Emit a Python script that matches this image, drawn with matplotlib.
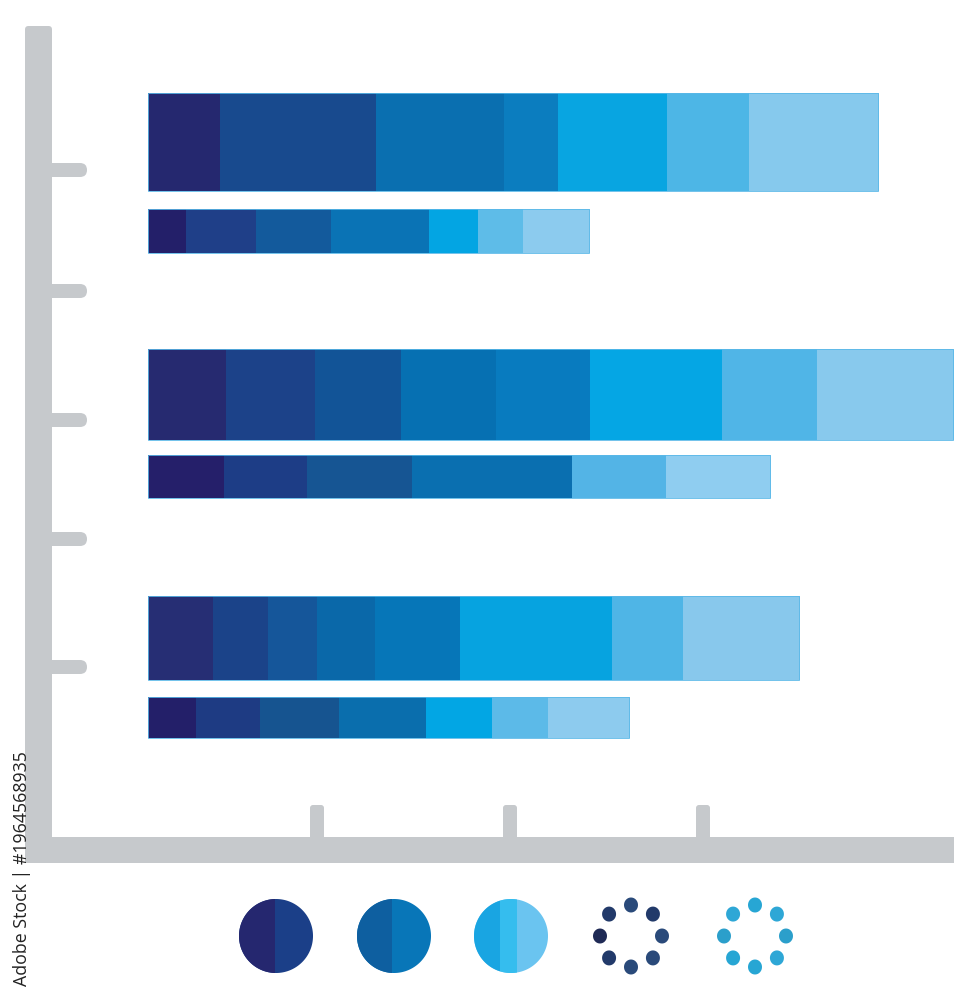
import matplotlib
matplotlib.use("Agg")
import matplotlib.pyplot as plt
from matplotlib.patches import FancyBboxPatch, Rectangle
import numpy as np

# ---------------- data ----------------
bar_names = ["Group 1 - A", "Group 1 - B", "Group 2 - A", "Group 2 - B", "Group 3 - A", "Group 3 - B"]
seg_group1_a = [7.2, 15.6, 12.8, 5.4, 10.9, 8.2, 12.9]
seg_group1_b = [3.8, 7.0, 7.5, 9.8, 4.9, 4.5, 6.6]
seg_group2_a = [7.8, 8.9, 8.6, 9.5, 9.4, 13.2, 9.5, 13.6]
seg_group2_b = [7.6, 8.3, 10.5, 16.0, 9.4, 10.4]
seg_group3_a = [6.5, 5.5, 4.9, 5.8, 8.5, 15.2, 7.1, 11.6]
seg_group3_b = [4.8, 6.4, 7.9, 8.7, 6.6, 5.6, 8.1]

col_group1_a = ["#25286f", "#184a8e", "#0a6fb0", "#0b7dbf", "#08a5e1", "#4db6e6", "#86c9ed"]
col_group1_b = ["#231f69", "#1f3f88", "#135a9c", "#0a73b5", "#03a5e3", "#5ebce8", "#8ccbee"]
col_group2_a = ["#262a70", "#1c4289", "#125497", "#0670b2", "#087bbf", "#05a6e4", "#50b5e7", "#88c9ed"]
col_group2_b = ["#251f6a", "#1d3d86", "#165593", "#0a6fb0", "#53b4e6", "#8fcdf0"]
col_group3_a = ["#262e74", "#1b4389", "#15569a", "#0a68a9", "#0676b8", "#06a3e0", "#4fb5e6", "#88c8ec"]
col_group3_b = ["#231f69", "#1e3b83", "#165490", "#0a6ead", "#02a6e4", "#5cbae8", "#8dcbee"]

x_tick_values = [16.9, 36.2, 55.5]
watermark = "Adobe Stock | #1964568935"

# ---------------- layout ----------------
series = [seg_group1_a, seg_group1_b, seg_group2_a, seg_group2_b, seg_group3_a, seg_group3_b]
colors = [col_group1_a, col_group1_b, col_group2_a, col_group2_b, col_group3_a, col_group3_b]
bar_y = [142, 231, 394.5, 476.5, 638, 717.5]
bar_h = [98, 44, 91, 43, 84, 41]

W, H = 978, 1000
fig = plt.figure(figsize=(W / 100, H / 100), dpi=100)
ax = fig.add_axes([0, 0, 1, 1])
X0 = 148.0   # pixel of value 0
SC = 10.0    # pixels per unit
ax.set_xlim((0 - X0) / SC, (W - X0) / SC)
ax.set_ylim(H, 0)
ax.axis("off")

def X(px):
    return (np.asarray(px) - X0) / SC

def DX(px):
    return px / SC

gray = "#c6c9cc"

# y axis
ax.add_patch(FancyBboxPatch((X(25), 26), DX(27), 837,
                            boxstyle="round,pad=0,rounding_size=0.35",
                            mutation_aspect=SC, fc=gray, ec="none"))
# x axis
ax.add_patch(Rectangle((X(25), 837), DX(929), 26, fc=gray, ec="none"))
# y ticks (decorative)
for yt in [170, 291, 420, 539, 667]:
    ax.add_patch(FancyBboxPatch((X(40), yt - 7), DX(47), 14,
                                boxstyle="round,pad=0,rounding_size=0.7",
                                mutation_aspect=10, fc=gray, ec="none"))
# x ticks
for xv in x_tick_values:
    ax.add_patch(FancyBboxPatch((xv - DX(7), 805), DX(14), 40,
                                boxstyle="round,pad=0,rounding_size=0.3",
                                mutation_aspect=SC, fc=gray, ec="none"))

# bars
for vals, cols, yc, h in zip(series, colors, bar_y, bar_h):
    left = 0.0
    for v, c in zip(vals, cols):
        ax.barh(yc, v + 0.05, left=left, height=h, color=c, edgecolor="none")
        left += v
    ax.barh(yc, left, left=0, height=h, color="none", edgecolor="#5ab8e8", linewidth=0.6)

# legend-like circles
cy = 936
r = 37

def circle_two(cx, c_left, c_right, split_px, extra=None):
    th = np.linspace(0, 2 * np.pi, 300)
    xs = cx + r * np.cos(th)
    ys = cy + r * np.sin(th)
    ax.fill(X(xs), ys, color=c_right, lw=0)
    xl = np.minimum(xs, split_px)
    ax.fill(X(xl), ys, color=c_left, lw=0)
    if extra is not None:
        s2, c2 = extra
        xm = np.clip(xs, split_px, s2)
        ax.fill(X(xm), ys, color=c2, lw=0)

circle_two(276, "#25276f", "#1b3f88", 275)
circle_two(394, "#0e5fa0", "#0876b8", 392)
circle_two(511, "#19a5e2", "#6ac4f0", 500, extra=(517, "#35bdee"))

def dot_ring(cx, col_list):
    rr = 31
    for k in range(8):
        a = np.pi / 2 + k * np.pi / 4
        px = cx + rr * np.cos(a)
        py = cy - rr * np.sin(a)
        ang = np.linspace(0, 2 * np.pi, 40)
        ax.fill(X(px + 7 * np.cos(ang)), py + 7.5 * np.sin(ang), color=col_list[k], lw=0)

dot_ring(631, ["#2a4a7a", "#223a6a", "#1f2a55", "#223a6a", "#2a4a7a", "#2a4a7a", "#2a4a7a", "#223a6a"])
dot_ring(755, ["#27a6d4", "#2ea7d6", "#2b9fcb", "#27a6d4", "#27a6d4", "#2ea7d6", "#2b9fcb", "#2ea7d6"])

# vertical watermark label
ax.text(X(22), 986, watermark, rotation=90, ha="center", va="bottom",
        fontsize=12.8, color="#222222", family=["Open Sans", "DejaVu Sans"])

fig.savefig("out.png", dpi=100)
